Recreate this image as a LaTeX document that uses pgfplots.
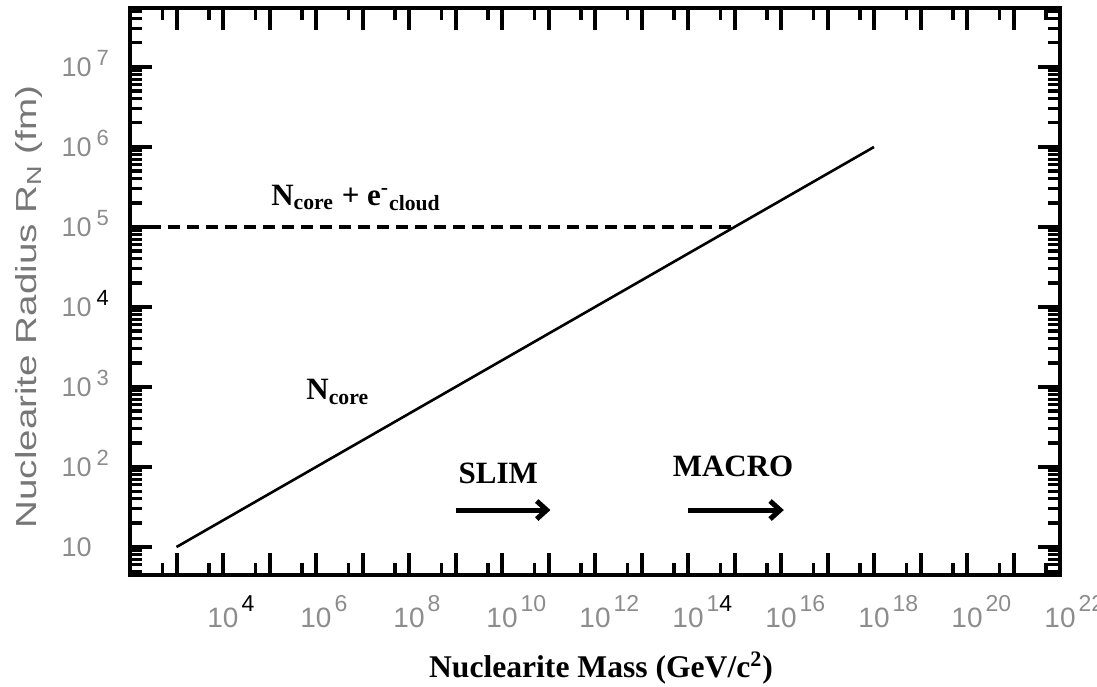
\documentclass[border=0pt]{standalone}
\usepackage{graphicx}
\usepackage{pgfplots}
\pgfplotsset{compat=1.18}
\usepackage{fontspec}
\setmainfont{Liberation Serif}
\newfontfamily\arial{Liberation Sans}
\usetikzlibrary{arrows.meta}
\definecolor{lblgray}{RGB}{140,140,140}
\newcommand\xtl[1]{10\rlap{\hspace{1.5pt}\raisebox{8pt}{\fontsize{11.5}{11.5}\selectfont #1}}}
\newcommand\ytl[1]{10\rlap{\hspace{2.5pt}\smash{\raisebox{5.5pt}{\fontsize{11}{11}\selectfont #1}}}}
\begin{document}
\begin{tikzpicture}
\useasboundingbox (-65pt,-55.5pt) rectangle (483.5pt,287.5pt);
\begin{axis}[
  at={(0,0)}, anchor=south west,
  scale only axis, width=465pt, height=283.5pt,
  xmode=log, ymode=log,
  xmin=1e2, xmax=1e22, ymin=4.47, ymax=5.46e7,
  clip=false,
  xtick={1e3,1e4,1e5,1e6,1e7,1e8,1e9,1e10,1e11,1e12,1e13,1e14,1e15,1e16,1e17,1e18,1e19,1e20,1e21,1e22},
  xticklabels={{},\xtl{\textcolor{black}{4}},{},\xtl{6},{},\xtl{8},{},\xtl{10},{},\xtl{12},{},\xtl{1\textcolor{black}{4}},{},\xtl{16},{},\xtl{18},{},\xtl{20},{},\xtl{22}},
  minor xtick={5e2,5e3,5e4,5e5,5e6,5e7,5e8,5e9,5e10,5e11,5e12,5e13,5e14,5e15,5e16,5e17,5e18,5e19,5e20,5e21},
  ytick={1e1,1e2,1e3,1e4,1e5,1e6,1e7},
  yticklabels={10,\ytl{2},\ytl{3},\ytl{\textcolor{black}{4}},\ytl{5},\ytl{6},\ytl{7}},
  minor ytick={5,6,7,8,9,20,30,40,50,60,70,80,90,200,300,400,500,600,700,800,900,2e3,3e3,4e3,5e3,6e3,7e3,8e3,9e3,2e4,3e4,4e4,5e4,6e4,7e4,8e4,9e4,2e5,3e5,4e5,5e5,6e5,7e5,8e5,9e5,2e6,3e6,4e6,5e6,6e6,7e6,8e6,9e6,2e7,3e7,4e7,5e7},
  axis line style={line width=2pt},
  major tick length=11pt, minor tick length=6pt,
  every major tick/.append style={line width=2pt, black},
  every minor tick/.append style={line width=1.6pt, black},
  xticklabel style={anchor=base, inner sep=0pt, yshift=-26pt, font=\arial\fontsize{14}{14}\selectfont, text=lblgray},
  yticklabel style={anchor=east, inner sep=0pt, xshift=-19pt, font=\arial\fontsize{13.5}{13.5}\selectfont, text=lblgray},
]
\addplot[black, line width=1.3pt] coordinates {(1e3,10) (1e18,1e6)};
\addplot[black, line width=1.8pt, dash pattern=on 6pt off 3.5pt] coordinates {(250,1e5) (1e15,1e5)};
\addplot[black, line width=2.5pt, -{Straight Barb[length=5pt,width=9pt]}] coordinates {(1e9,29) (1.1e11,29)};
\addplot[black, line width=2.5pt, -{Straight Barb[length=5pt,width=9pt]}] coordinates {(1e14,29) (1.15e16,29)};
\node[anchor=base west, inner sep=0pt, font=\bfseries\fontsize{15.5}{15.5}\selectfont] at (axis cs:1.07e5,1.88e5) {N\textsubscript{core} + e\textsuperscript{-}\textsubscript{cloud}};
\node[anchor=base west, inner sep=0pt, font=\bfseries\fontsize{15.5}{15.5}\selectfont] at (axis cs:6.1e5,690) {N\textsubscript{core}};
\node[anchor=base, inner sep=0pt, font=\bfseries\fontsize{15.5}{15.5}\selectfont] at (axis cs:8.3e9,63) {SLIM};
\node[anchor=base, inner sep=0pt, font=\bfseries\fontsize{15.5}{15.5}\selectfont] at (axis cs:9.3e14,77) {MACRO};
\end{axis}
\node[anchor=base, inner sep=0pt, font=\bfseries\fontsize{15.8}{15.8}\selectfont] at (235.5pt,-51pt) {Nuclearite Mass (GeV/c\textsuperscript{2})};
\node[rotate=90, anchor=base, inner sep=0pt, text=lblgray!85!black, font=\arial\fontsize{14.5}{14.5}\selectfont] at (-46.5pt,134pt) {\scalebox{1.33}[1]{Nuclearite Radius R\textsubscript{N} (fm)}};
\end{tikzpicture}
\end{document}
